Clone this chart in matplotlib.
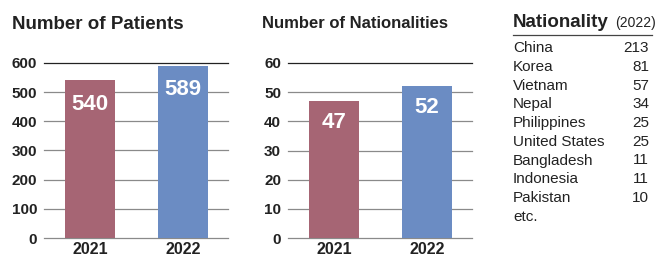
import matplotlib
matplotlib.use("Agg")
import matplotlib.pyplot as plt

plt.rcParams['font.family'] = ['Liberation Sans', 'DejaVu Sans']

# data
years = ["2021", "2022"]
patients = [540, 589]
nationalities = [47, 52]
patient_ticks = [0, 100, 200, 300, 400, 500, 600]
nation_ticks = [0, 10, 20, 30, 40, 50, 60]

countries = ["China", "Korea", "Vietnam", "Nepal", "Philippines", "United States",
             "Bangladesh", "Indonesia", "Pakistan", "etc."]
counts = ["213", "81", "57", "34", "25", "25", "11", "11", "10", ""]

bar_colors = ["#a66574", "#6b8cc3"]
W, H = 659, 260

fig = plt.figure(figsize=(W / 100, H / 100), dpi=100)


def px_axes(x0, x1, y0, y1):
    return fig.add_axes([x0 / W, 1 - y1 / H, (x1 - x0) / W, (y1 - y0) / H])


def bar_panel(ax, values, ticks, label_off):
    x = range(len(years))
    ax.bar(x, values, width=0.54, color=bar_colors, zorder=3)
    ax.set_ylim(0, ticks[-1])
    ax.set_xlim(-0.495, 1.485)
    for t in ticks:
        col = "#222222" if t == ticks[-1] else "#8a8a8a"
        ax.axhline(t, color=col, linewidth=0.9, zorder=1, clip_on=False)
    ax.set_yticks(ticks)
    ax.set_yticklabels([str(t) for t in ticks], fontsize=11, fontweight="bold", color="#222222")
    ax.set_xticks(list(x))
    ax.set_xticklabels(years, fontsize=11.5, fontweight="bold", color="#222222")
    ax.tick_params(axis="y", length=0, pad=5)
    ax.tick_params(axis="x", length=0, pad=3)
    for s in ax.spines.values():
        s.set_visible(False)
    for i, v in enumerate(values):
        ax.annotate(str(v), (i, v), xytext=(0, -label_off), textcoords="offset points",
                    ha="center", va="center", color="white", fontsize=16, fontweight="bold",
                    zorder=4)


ax1 = px_axes(44, 228, 63, 238)
bar_panel(ax1, patients, patient_ticks, 17)
ax2 = px_axes(288, 472, 63, 238)
bar_panel(ax2, nationalities, nation_ticks, 15.5)

fig.text(12 / W, 1 - 29.3 / H, "Number of Patients", fontsize=13.5, fontweight="bold",
         color="#222222", va="baseline")
fig.text(262 / W, 1 - 28.3 / H, "Number of Nationalities", fontsize=12, fontweight="bold",
         color="#222222", va="baseline")

# nationality table
hdr = fig.text(513 / W, 1 - 26.7 / H, "Nationality", fontsize=13.5, fontweight="bold",
               color="#222222", va="baseline")
fig.text(615 / W, 1 - 26.7 / H, "(2022)", fontsize=10, color="#222222", va="baseline")
fig.add_artist(plt.Line2D([513 / W, 652 / W], [1 - 35 / H, 1 - 35 / H],
                          color="#444444", linewidth=0.9))
for i, (c, n) in enumerate(zip(countries, counts)):
    y = 1 - (48.3 + i * 18.7) / H
    fig.text(513 / W, y, c, fontsize=11, color="#222222", va="center")
    if n:
        fig.text(649 / W, y, n, fontsize=11, color="#222222", va="center", ha="right")

fig.savefig("out.png", dpi=100)
